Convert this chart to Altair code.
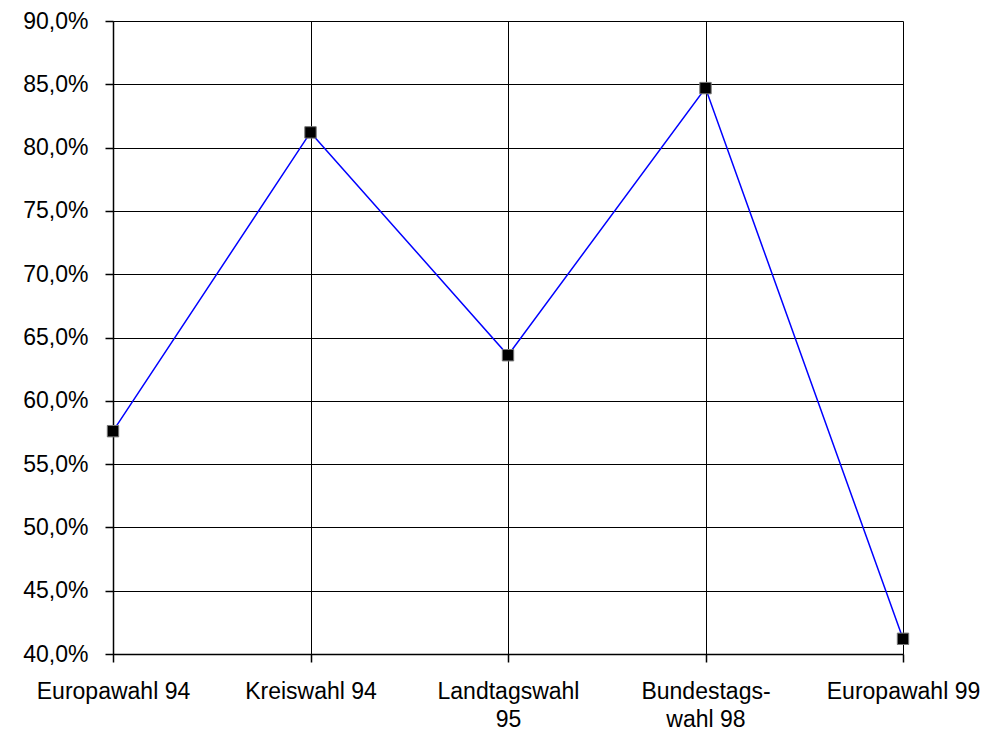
import altair as alt
import pandas as pd

categories = ["Europawahl 94", "Kreiswahl 94", "Landtagswahl|95", "Bundestags-|wahl 98", "Europawahl 99"]
values = [57.6, 81.2, 63.6, 84.7, 41.2]
y_ticks = [40, 45, 50, 55, 60, 65, 70, 75, 80, 85, 90]

df = pd.DataFrame({"cat": categories, "val": values, "order": list(range(len(categories)))})

FONT = "Liberation Sans"
FS = 23

x_enc = alt.X("cat:N", sort=categories, scale=alt.Scale(type="point", padding=0),
              axis=alt.Axis(title=None, labelAngle=0, grid=True, gridColor="black", gridOpacity=1,
                            domainColor="black", tickColor="black", tickSize=8,
                            labelExpr="split(datum.label, '|')", labelFontSize=FS,
                            labelFont=FONT, labelColor="black", labelPadding=18,
                            labelLineHeight=28, labelBaseline="top", labelOverlap=False))
y_enc = alt.Y("val:Q", scale=alt.Scale(domain=[40, 90], nice=False, zero=False),
              axis=alt.Axis(title=None, values=y_ticks, grid=True, gridColor="black", gridOpacity=1,
                            domainColor="black", tickColor="black", tickSize=8,
                            labelExpr="replace(format(datum.value, '.1f'), '.', ',') + '%'",
                            labelFontSize=FS, labelFont=FONT, labelColor="black",
                            labelPadding=17))

base = alt.Chart(df)
line = base.mark_line(color="#0000FF", strokeWidth=1.5).encode(x=x_enc, y=y_enc, order="order:Q")
pts = base.mark_square(size=130, color="black", opacity=1, stroke="#777777", strokeWidth=1, filled=True).encode(
    x=alt.X("cat:N", sort=categories), y="val:Q")

chart = (line + pts).properties(
    width=790, height=633,
    autosize=alt.AutoSizeParams(type="none"),
    padding={"left": 105, "top": 13, "right": 90, "bottom": 78},
).configure_view(stroke=None).configure_axis(gridWidth=1, domainWidth=1.5, tickWidth=1.5)

chart.save("out.html", embed_options={"renderer": "svg", "actions": False})
